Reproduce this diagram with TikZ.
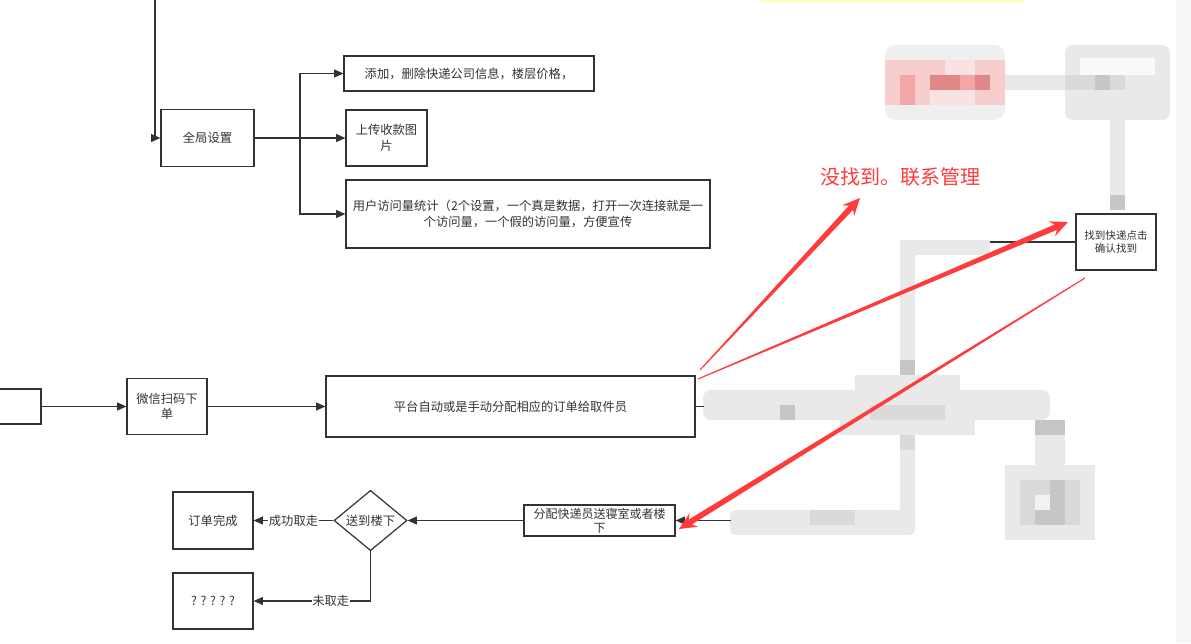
\documentclass[tikz,border=0pt]{standalone}
\usepackage{fontspec}
\setmainfont{Noto Sans CJK SC}
\usetikzlibrary{arrows.meta,shapes.geometric,calc}
\definecolor{ink}{HTML}{333333}
\definecolor{annred}{HTML}{FF3B3B}
\definecolor{mzA}{HTML}{E9E9E9}
\definecolor{mzB}{HTML}{DADADA}
\definecolor{mzC}{HTML}{C6C6C6}
\definecolor{mzL}{HTML}{EFEFEF}
\definecolor{mzW}{HTML}{FAFAFA}
\definecolor{mzM}{HTML}{F2F2F2}
\definecolor{pkA}{HTML}{F8CDCD}
\definecolor{pkB}{HTML}{F2A6A6}
\definecolor{pkC}{HTML}{E08888}
\definecolor{pkD}{HTML}{FBE2E2}
\definecolor{strip}{HTML}{F6F7F9}
\definecolor{ylw}{HTML}{FFFFC8}
\newcommand\annarrow[2]{%
  \coordinate (aA) at #1; \coordinate (aB) at #2;
  \coordinate (aH) at ($(aB)!13pt!(aA)$);
  \coordinate (aJ) at ($(aB)!10pt!(aA)$);
  \fill[annred] ($(aA)!0.4pt!90:(aB)$) -- ($(aJ)!2.2pt!90:(aB)$) -- ($(aH)!6pt!90:(aB)$) -- (aB)
    -- ($(aH)!6pt!-90:(aB)$) -- ($(aJ)!2.2pt!-90:(aB)$) -- ($(aA)!0.4pt!-90:(aB)$) -- cycle;}
\begin{document}
\begin{tikzpicture}[x=0.75pt,y=-0.75pt,
  box/.style={draw=ink,line width=0.9pt,fill=white,align=center,inner sep=1pt,text=ink,font=\fontsize{9.2}{11.5}\selectfont},
  arr/.style={draw=ink,line width=0.9pt,-{Triangle[length=7pt,width=6pt]}},
  ln/.style={draw=ink,line width=0.9pt},
  lbl/.style={fill=white,inner sep=0.5pt,text=ink,font=\fontsize{9.2}{11.5}\selectfont}]
\useasboundingbox (0,0) rectangle (1191,643);
\fill[white] (0,0) rectangle (1191,643);
\fill[strip] (1176,0) rectangle (1191,643);
\fill[ylw] (760,0) rectangle (1024,3);
% pixelated (mosaic) areas
\fill[mzL,rounded corners=8] (885,45) rectangle (1005,120);
\fill[pkA] (885,60) rectangle (1005,105);
\fill[pkD] (945,60) rectangle (975,75);
\fill[pkD] (930,90) rectangle (975,105);
\fill[pkB] (900,75) rectangle (915,105);
\fill[pkB] (960,75) rectangle (975,90);
\fill[pkC] (930,75) rectangle (960,90);
\fill[pkC] (975,75) rectangle (990,90);
\fill[mzA] (1005,75) rectangle (1065,90);
\fill[mzA,rounded corners=6] (1065,45) rectangle (1170,120);
\fill[mzW] (1080,58) rectangle (1155,75);
\fill[mzB] (1065,75) rectangle (1125,90);
\fill[mzC] (1095,75) rectangle (1110,90);
\fill[mzA] (1110,90) rectangle (1125,195);
\fill[mzC] (1110,195) rectangle (1125,210);
\fill[mzA] (900,240) rectangle (990,255);
\fill[mzA] (900,240) rectangle (915,525);
\fill[mzC] (900,360) rectangle (915,375);
\fill[mzA] (855,375) rectangle (960,390);
\fill[mzA,rounded corners=6] (703,390) rectangle (1050,420);
\fill[mzC] (780,405) rectangle (795,420);
\fill[mzB] (870,405) rectangle (945,420);
\fill[mzA] (840,420) rectangle (975,435);
\fill[mzB] (900,435) rectangle (915,450);
\fill[mzC] (1035,420) rectangle (1065,435);
\fill[mzA] (1035,435) rectangle (1065,465);
\fill[mzA] (1005,465) rectangle (1095,540);
\fill[mzB] (1020,480) rectangle (1080,525);
\fill[mzM] (1035,495) rectangle (1050,510);
\fill[mzC] (1050,480) rectangle (1065,510);
\fill[mzC] (1035,510) rectangle (1065,525);
\fill[mzA,rounded corners=4] (730,510) rectangle (915,535);
\fill[mzB] (810,510) rectangle (855,525);
% nodes
\node[box,minimum width=69.75pt,minimum height=42.75pt] (gs) at (207.5,138) {全局设置};
\node[box,minimum width=187.5pt,minimum height=26.25pt] (b1) at (469,73.5) {添加，删除快递公司信息，楼层价格，};
\node[box,minimum width=60.75pt,minimum height=42pt] (b2) at (386.5,138) {上传收款图\\片};
\node[box,minimum width=273pt,minimum height=51pt] (b3) at (528,214) {用户访问量统计（2个设置，一个真是数据，打开一次连接就是一\\个访问量，一个假的访问量，方便宣传};
\node[box,minimum width=31.5pt,minimum height=26.25pt] (lp) at (20,406.5) {};
\node[box,minimum width=60pt,minimum height=42pt] (wx) at (167,406.5) {微信扫码下\\单};
\node[box,minimum width=276.75pt,minimum height=45.75pt] (big) at (510.5,406.5) {平台自动或是手动分配相应的订单给取件员};
\node[box,minimum width=60pt,minimum height=42pt,font=\fontsize{7.9}{10}\selectfont] (zd) at (1116,242) {找到快递点击\\确认找到};
\node[box,minimum width=113.25pt,minimum height=23.25pt,inner sep=0.5pt,font=\fontsize{9}{10.5}\selectfont] (fp) at (599.5,520.5) {分配快递员送寝室或者楼\\下};
\node[box,diamond,minimum width=54.75pt,minimum height=42.75pt,inner sep=0pt] (dm) at (370.5,520.5) {送到楼下};
\node[box,minimum width=60pt,minimum height=42.75pt] (ok) at (213,520.5) {订单完成};
\node[box,minimum width=60pt,minimum height=42pt] (qq) at (213,601) {? ? ? ? ?};
\node[text=annred,font=\fontsize{15}{18}\selectfont] (note) at (900,177) {没找到。联系管理};
% connectors
\coordinate (topL) at (155,0);
\coordinate (bx) at (300,138);
\coordinate (bigout) at (704,406.5);
\coordinate (zdl) at (990,242);
\coordinate (fpin) at (731,520.5);
\draw[arr] (topL) |- (gs.west);
\draw[arr] (gs.east) -- (b2.west);
\draw[arr] (bx) |- (b1.west);
\draw[arr] (bx) |- (b3.west);
\draw[arr] (lp.east) -- (wx.west);
\draw[arr] (wx.east) -- (big.west);
\draw[ln] (big.east) -- (bigout);
\draw[ln] (zd.west) -- (zdl);
\draw[arr] (fpin) -- (fp.east);
\draw[arr] (fp.west) -- (dm.east);
\draw[arr] (dm.west) -- node[lbl]{成功取走} (ok.east);
\draw[arr] (dm.south) |- node[lbl,pos=0.67]{未取走} (qq.east);
% red annotation arrows
\annarrow{(700,370)}{(860,198)}
\annarrow{(698,379)}{(1068,222)}
\annarrow{(1085,278)}{(679,529)}
\end{tikzpicture}
\end{document}
